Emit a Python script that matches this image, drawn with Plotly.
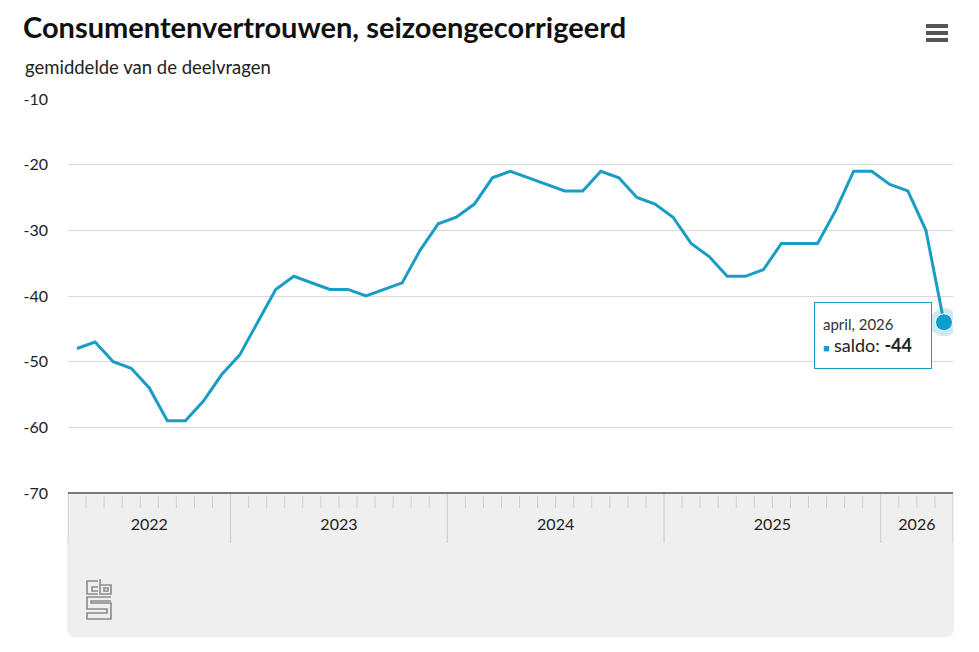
import plotly.graph_objects as go

# ---- data ----
years = [2022, 2023, 2024, 2025, 2026]
months_in_year = [9, 12, 12, 12, 4]          # Apr 2022 .. Apr 2026
saldo = [
    -48, -47, -50, -51, -54, -59, -59, -56, -52,                      # 2022 (apr-dec)
    -49, -44, -39, -37, -38, -39, -39, -40, -39, -38, -33, -29,       # 2023
    -28, -26, -22, -21, -22, -23, -24, -24, -21, -22, -25, -26,       # 2024
    -28, -32, -34, -37, -37, -36, -32, -32, -32, -27, -21, -21,       # 2025
    -23, -24, -30, -44,                                               # 2026 (jan-apr)
]
last_label = "april, 2026"
series_name = "saldo"
y_ticks = [-70, -60, -50, -40, -30, -20, -10]

# ---- derived ----
idx = list(range(len(saldo)))
year_starts, year_centers = [], []
s = 0
for n in months_in_year:
    year_starts.append(s - 0.5)
    year_centers.append(s - 0.5 + n / 2)
    s += n
year_ends = year_starts[1:] + [s - 0.5]
month_bounds = [i + 0.5 for i in range(len(saldo) - 1) if (i + 0.5) not in year_starts]

OFF = 8                      # page body margin
W, H = 963, 636
L, T = 60, 91
pw = 945 - L
ph = 485 - T
R, B = W - L - pw, H - T - ph

def px(x):  # screen pixel -> paper x
    return (x - OFF - L) / pw

def py(y):  # screen pixel -> paper y
    return (T + ph - (y - OFF)) / ph

BLUE = "#1a9dc5"
fig = go.Figure()
fig.add_trace(go.Scatter(x=idx, y=saldo, mode="lines", line=dict(color=BLUE, width=3),
                         hoverinfo="skip", showlegend=False))
fig.add_trace(go.Scatter(x=[idx[-1]], y=[saldo[-1]], mode="markers",
                         marker=dict(size=28, color="rgba(26,157,197,0.22)"),
                         hoverinfo="skip", showlegend=False))
fig.add_trace(go.Scatter(x=[idx[-1]], y=[saldo[-1]], mode="markers",
                         marker=dict(size=17, color="#0a9fcc", line=dict(color="white", width=1)),
                         hoverinfo="skip", showlegend=False))

shapes = []
r = 9
x0, x1 = px(67), px(954)
yt, yb = py(493), py(637)
rx, ry = r / pw, r / ph
shapes.append(dict(type="path", xref="paper", yref="paper", layer="below",
                   path=f"M {x0},{yt} L {x1},{yt} L {x1},{yb+ry} Q {x1},{yb} {x1-rx},{yb} "
                        f"L {x0+rx},{yb} Q {x0},{yb} {x0},{yb+ry} Z",
                   fillcolor="#efefef", line=dict(width=0)))
for xs in year_starts + [year_ends[-1]]:
    shapes.append(dict(type="line", xref="x", yref="paper", x0=xs, x1=xs, y0=0, y1=py(543),
                       line=dict(color="#c9c9c9", width=1)))
for xm in month_bounds:
    shapes.append(dict(type="line", xref="x", yref="paper", x0=xm, x1=xm, y0=py(496), y1=py(508),
                       line=dict(color="#cfcfcf", width=1)))
shapes.append(dict(type="line", xref="paper", yref="paper", x0=0, x1=1, y0=0, y1=0,
                   line=dict(color="#7a7a7a", width=2)))
for yy in (26, 33, 40):
    shapes.append(dict(type="line", xref="paper", yref="paper", x0=px(926), x1=px(948),
                       y0=py(yy), y1=py(yy), line=dict(color="#555555", width=4)))
g = dict(color="#8a8a8a", width=1.6)
logo = [
    "M 98,581 L 87,581 L 87,594 L 98,594",
    "M 98,587 L 92,587 L 92,591 L 98,591",
    "M 100,579 L 100,594 L 111,594 L 111,585 L 100,585",
    "M 104,588 L 108,588 L 108,591 L 104,591 Z",
    "M 111,597 L 87,597 L 87,609 L 107,609 L 107,613 L 87,613 L 87,619 L 111,619 L 111,603 L 91,603 L 91,601 L 111,601",
]
def conv(p):
    out = []
    for tok in p.split(" "):
        if "," in tok:
            a, b = tok.split(",")
            out.append(f"{px(float(a))},{py(float(b))}")
        else:
            out.append(tok)
    return " ".join(out)
for p in logo:
    shapes.append(dict(type="path", xref="paper", yref="paper", path=conv(p), line=g))

FONT = "Lato"
annotations = [
    dict(xref="paper", yref="paper", x=px(21), y=py(27), xanchor="left", yanchor="middle",
         text="<b>Consumentenvertrouwen, seizoengecorrigeerd</b>", showarrow=False,
         font=dict(family=FONT, size=29, color="#111111")),
    dict(xref="paper", yref="paper", x=px(23), y=py(67), xanchor="left", yanchor="middle",
         text="gemiddelde van de deelvragen", showarrow=False,
         font=dict(family=FONT, size=18.5, color="#222222")),
    dict(xref="x", yref="y", x=idx[-1], y=saldo[-1], xanchor="right", yanchor="middle",
         xshift=-12, yshift=-13, showarrow=False, align="left",
         text=f"<span style='font-size:15px;color:#333'>{last_label}</span><br>"
              f"<span style='color:{BLUE};font-size:11px'>■</span> "
              f"<span style='font-size:18px'>{series_name}: <b>{saldo[-1]}</b></span>",
         bgcolor="white", bordercolor=BLUE, borderwidth=1, borderpad=8,
         width=100, height=49, font=dict(family=FONT, size=17, color="#222222")),
]

fig.update_layout(
    width=W, height=H, margin=dict(l=L, r=R, t=T, b=B),
    paper_bgcolor="white", plot_bgcolor="white",
    shapes=shapes, annotations=annotations,
    font=dict(family=FONT, color="#222222"),
    xaxis=dict(range=[-0.5, len(saldo) - 0.5], tickvals=year_centers, ticktext=[str(y) for y in years],
               ticks="", showgrid=False, zeroline=False, showline=False,
               ticklabelstandoff=20, tickfont=dict(family=FONT, size=16, color="#222222"),
               fixedrange=True),
    yaxis=dict(range=[-70, -10], tickvals=y_ticks, ticktext=[str(v) for v in y_ticks],
               showgrid=True, gridcolor="#d9d9d9",
               gridwidth=1, zeroline=False, showline=False, ticks="",
               ticklabelstandoff=19, tickfont=dict(family=FONT, size=16, color="#222222"),
               fixedrange=True),
)
fig.write_html("out.html")
